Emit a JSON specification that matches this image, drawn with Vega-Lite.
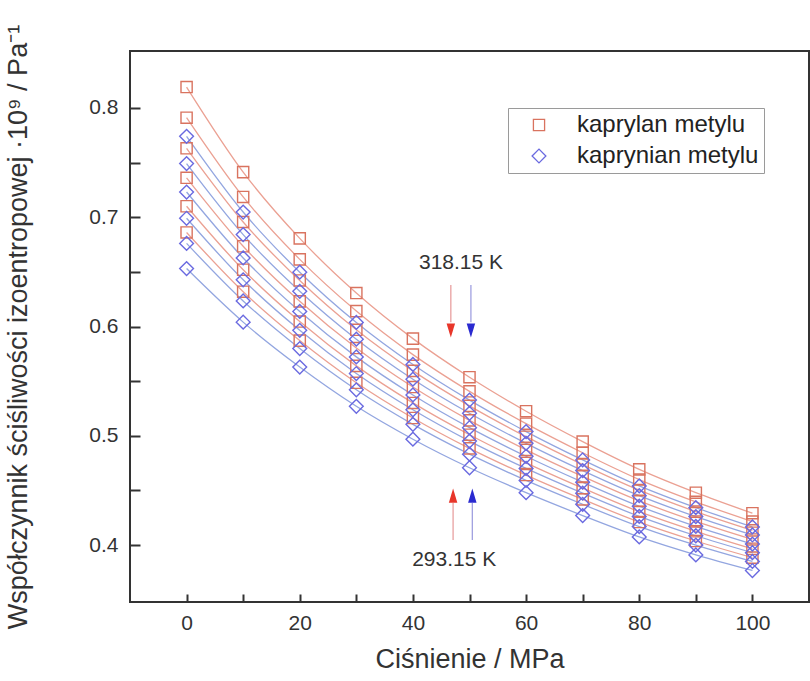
{
  "$schema": "https://vega.github.io/schema/vega-lite/v6.json",
  "width": 679,
  "height": 551,
  "autosize": "none",
  "padding": {"left": 130, "top": 51, "right": 1, "bottom": 79},
  "config": {
    "font": "Liberation Sans",
    "view": {"stroke": "#333333", "strokeWidth": 2},
    "axis": {"labelColor": "#333333", "titleColor": "#333333", "domain": false, "grid": false, "labelFontSize": 21, "titleFontSize": 27, "titleFontWeight": "normal", "tickColor": "#333333", "tickWidth": 2, "zindex": 1}
  },
  "datasets": {
    "pts": [
      {"ciecz": "kaprylan metylu", "T": 318.15, "P": 0, "k": 0.819},
      {"ciecz": "kaprylan metylu", "T": 318.15, "P": 10, "k": 0.7412},
      {"ciecz": "kaprylan metylu", "T": 318.15, "P": 20, "k": 0.6806},
      {"ciecz": "kaprylan metylu", "T": 318.15, "P": 30, "k": 0.6306},
      {"ciecz": "kaprylan metylu", "T": 318.15, "P": 40, "k": 0.5889},
      {"ciecz": "kaprylan metylu", "T": 318.15, "P": 50, "k": 0.5536},
      {"ciecz": "kaprylan metylu", "T": 318.15, "P": 60, "k": 0.5225},
      {"ciecz": "kaprylan metylu", "T": 318.15, "P": 70, "k": 0.4947},
      {"ciecz": "kaprylan metylu", "T": 318.15, "P": 80, "k": 0.4693},
      {"ciecz": "kaprylan metylu", "T": 318.15, "P": 90, "k": 0.448},
      {"ciecz": "kaprylan metylu", "T": 318.15, "P": 100, "k": 0.4292},
      {"ciecz": "kaprylan metylu", "T": 313.15, "P": 0, "k": 0.791},
      {"ciecz": "kaprylan metylu", "T": 313.15, "P": 10, "k": 0.7185},
      {"ciecz": "kaprylan metylu", "T": 313.15, "P": 20, "k": 0.6614},
      {"ciecz": "kaprylan metylu", "T": 313.15, "P": 30, "k": 0.6141},
      {"ciecz": "kaprylan metylu", "T": 313.15, "P": 40, "k": 0.5743},
      {"ciecz": "kaprylan metylu", "T": 313.15, "P": 50, "k": 0.5407},
      {"ciecz": "kaprylan metylu", "T": 313.15, "P": 60, "k": 0.5111},
      {"ciecz": "kaprylan metylu", "T": 313.15, "P": 70, "k": 0.4845},
      {"ciecz": "kaprylan metylu", "T": 313.15, "P": 80, "k": 0.46},
      {"ciecz": "kaprylan metylu", "T": 313.15, "P": 90, "k": 0.4396},
      {"ciecz": "kaprylan metylu", "T": 313.15, "P": 100, "k": 0.4216},
      {"ciecz": "kaprylan metylu", "T": 308.15, "P": 0, "k": 0.763},
      {"ciecz": "kaprylan metylu", "T": 308.15, "P": 10, "k": 0.6956},
      {"ciecz": "kaprylan metylu", "T": 308.15, "P": 20, "k": 0.6421},
      {"ciecz": "kaprylan metylu", "T": 308.15, "P": 30, "k": 0.597},
      {"ciecz": "kaprylan metylu", "T": 308.15, "P": 40, "k": 0.5594},
      {"ciecz": "kaprylan metylu", "T": 308.15, "P": 50, "k": 0.5274},
      {"ciecz": "kaprylan metylu", "T": 308.15, "P": 60, "k": 0.4992},
      {"ciecz": "kaprylan metylu", "T": 308.15, "P": 70, "k": 0.4737},
      {"ciecz": "kaprylan metylu", "T": 308.15, "P": 80, "k": 0.4503},
      {"ciecz": "kaprylan metylu", "T": 308.15, "P": 90, "k": 0.4307},
      {"ciecz": "kaprylan metylu", "T": 308.15, "P": 100, "k": 0.4135},
      {"ciecz": "kaprylan metylu", "T": 303.15, "P": 0, "k": 0.736},
      {"ciecz": "kaprylan metylu", "T": 303.15, "P": 10, "k": 0.6734},
      {"ciecz": "kaprylan metylu", "T": 303.15, "P": 20, "k": 0.623},
      {"ciecz": "kaprylan metylu", "T": 303.15, "P": 30, "k": 0.5803},
      {"ciecz": "kaprylan metylu", "T": 303.15, "P": 40, "k": 0.5446},
      {"ciecz": "kaprylan metylu", "T": 303.15, "P": 50, "k": 0.5141},
      {"ciecz": "kaprylan metylu", "T": 303.15, "P": 60, "k": 0.4872},
      {"ciecz": "kaprylan metylu", "T": 303.15, "P": 70, "k": 0.4629},
      {"ciecz": "kaprylan metylu", "T": 303.15, "P": 80, "k": 0.4405},
      {"ciecz": "kaprylan metylu", "T": 303.15, "P": 90, "k": 0.4217},
      {"ciecz": "kaprylan metylu", "T": 303.15, "P": 100, "k": 0.4052},
      {"ciecz": "kaprylan metylu", "T": 298.15, "P": 0, "k": 0.71},
      {"ciecz": "kaprylan metylu", "T": 298.15, "P": 10, "k": 0.6519},
      {"ciecz": "kaprylan metylu", "T": 298.15, "P": 20, "k": 0.6045},
      {"ciecz": "kaprylan metylu", "T": 298.15, "P": 30, "k": 0.564},
      {"ciecz": "kaprylan metylu", "T": 298.15, "P": 40, "k": 0.5301},
      {"ciecz": "kaprylan metylu", "T": 298.15, "P": 50, "k": 0.501},
      {"ciecz": "kaprylan metylu", "T": 298.15, "P": 60, "k": 0.4753},
      {"ciecz": "kaprylan metylu", "T": 298.15, "P": 70, "k": 0.4522},
      {"ciecz": "kaprylan metylu", "T": 298.15, "P": 80, "k": 0.4306},
      {"ciecz": "kaprylan metylu", "T": 298.15, "P": 90, "k": 0.4127},
      {"ciecz": "kaprylan metylu", "T": 298.15, "P": 100, "k": 0.3967},
      {"ciecz": "kaprylan metylu", "T": 293.15, "P": 0, "k": 0.686},
      {"ciecz": "kaprylan metylu", "T": 293.15, "P": 10, "k": 0.6318},
      {"ciecz": "kaprylan metylu", "T": 293.15, "P": 20, "k": 0.5871},
      {"ciecz": "kaprylan metylu", "T": 293.15, "P": 30, "k": 0.5485},
      {"ciecz": "kaprylan metylu", "T": 293.15, "P": 40, "k": 0.5163},
      {"ciecz": "kaprylan metylu", "T": 293.15, "P": 50, "k": 0.4885},
      {"ciecz": "kaprylan metylu", "T": 293.15, "P": 60, "k": 0.4641},
      {"ciecz": "kaprylan metylu", "T": 293.15, "P": 70, "k": 0.4419},
      {"ciecz": "kaprylan metylu", "T": 293.15, "P": 80, "k": 0.4211},
      {"ciecz": "kaprylan metylu", "T": 293.15, "P": 90, "k": 0.4038},
      {"ciecz": "kaprylan metylu", "T": 293.15, "P": 100, "k": 0.3886},
      {"ciecz": "kaprynian metylu", "T": 318.15, "P": 0, "k": 0.774},
      {"ciecz": "kaprynian metylu", "T": 318.15, "P": 10, "k": 0.7047},
      {"ciecz": "kaprynian metylu", "T": 318.15, "P": 20, "k": 0.6497},
      {"ciecz": "kaprynian metylu", "T": 318.15, "P": 30, "k": 0.6037},
      {"ciecz": "kaprynian metylu", "T": 318.15, "P": 40, "k": 0.5653},
      {"ciecz": "kaprynian metylu", "T": 318.15, "P": 50, "k": 0.5327},
      {"ciecz": "kaprynian metylu", "T": 318.15, "P": 60, "k": 0.5039},
      {"ciecz": "kaprynian metylu", "T": 318.15, "P": 70, "k": 0.478},
      {"ciecz": "kaprynian metylu", "T": 318.15, "P": 80, "k": 0.4542},
      {"ciecz": "kaprynian metylu", "T": 318.15, "P": 90, "k": 0.4343},
      {"ciecz": "kaprynian metylu", "T": 318.15, "P": 100, "k": 0.4167},
      {"ciecz": "kaprynian metylu", "T": 313.15, "P": 0, "k": 0.749},
      {"ciecz": "kaprynian metylu", "T": 313.15, "P": 10, "k": 0.6841},
      {"ciecz": "kaprynian metylu", "T": 313.15, "P": 20, "k": 0.6322},
      {"ciecz": "kaprynian metylu", "T": 313.15, "P": 30, "k": 0.5884},
      {"ciecz": "kaprynian metylu", "T": 313.15, "P": 40, "k": 0.5518},
      {"ciecz": "kaprynian metylu", "T": 313.15, "P": 50, "k": 0.5206},
      {"ciecz": "kaprynian metylu", "T": 313.15, "P": 60, "k": 0.4931},
      {"ciecz": "kaprynian metylu", "T": 313.15, "P": 70, "k": 0.4682},
      {"ciecz": "kaprynian metylu", "T": 313.15, "P": 80, "k": 0.4453},
      {"ciecz": "kaprynian metylu", "T": 313.15, "P": 90, "k": 0.4261},
      {"ciecz": "kaprynian metylu", "T": 313.15, "P": 100, "k": 0.4093},
      {"ciecz": "kaprynian metylu", "T": 308.15, "P": 0, "k": 0.723},
      {"ciecz": "kaprynian metylu", "T": 308.15, "P": 10, "k": 0.6627},
      {"ciecz": "kaprynian metylu", "T": 308.15, "P": 20, "k": 0.6138},
      {"ciecz": "kaprynian metylu", "T": 308.15, "P": 30, "k": 0.5722},
      {"ciecz": "kaprynian metylu", "T": 308.15, "P": 40, "k": 0.5374},
      {"ciecz": "kaprynian metylu", "T": 308.15, "P": 50, "k": 0.5075},
      {"ciecz": "kaprynian metylu", "T": 308.15, "P": 60, "k": 0.4813},
      {"ciecz": "kaprynian metylu", "T": 308.15, "P": 70, "k": 0.4576},
      {"ciecz": "kaprynian metylu", "T": 308.15, "P": 80, "k": 0.4356},
      {"ciecz": "kaprynian metylu", "T": 308.15, "P": 90, "k": 0.4172},
      {"ciecz": "kaprynian metylu", "T": 308.15, "P": 100, "k": 0.401},
      {"ciecz": "kaprynian metylu", "T": 303.15, "P": 0, "k": 0.699},
      {"ciecz": "kaprynian metylu", "T": 303.15, "P": 10, "k": 0.6427},
      {"ciecz": "kaprynian metylu", "T": 303.15, "P": 20, "k": 0.5965},
      {"ciecz": "kaprynian metylu", "T": 303.15, "P": 30, "k": 0.557},
      {"ciecz": "kaprynian metylu", "T": 303.15, "P": 40, "k": 0.5238},
      {"ciecz": "kaprynian metylu", "T": 303.15, "P": 50, "k": 0.4952},
      {"ciecz": "kaprynian metylu", "T": 303.15, "P": 60, "k": 0.4702},
      {"ciecz": "kaprynian metylu", "T": 303.15, "P": 70, "k": 0.4475},
      {"ciecz": "kaprynian metylu", "T": 303.15, "P": 80, "k": 0.4263},
      {"ciecz": "kaprynian metylu", "T": 303.15, "P": 90, "k": 0.4086},
      {"ciecz": "kaprynian metylu", "T": 303.15, "P": 100, "k": 0.3931},
      {"ciecz": "kaprynian metylu", "T": 298.15, "P": 0, "k": 0.676},
      {"ciecz": "kaprynian metylu", "T": 298.15, "P": 10, "k": 0.6234},
      {"ciecz": "kaprynian metylu", "T": 298.15, "P": 20, "k": 0.5798},
      {"ciecz": "kaprynian metylu", "T": 298.15, "P": 30, "k": 0.5421},
      {"ciecz": "kaprynian metylu", "T": 298.15, "P": 40, "k": 0.5105},
      {"ciecz": "kaprynian metylu", "T": 298.15, "P": 50, "k": 0.4832},
      {"ciecz": "kaprynian metylu", "T": 298.15, "P": 60, "k": 0.4592},
      {"ciecz": "kaprynian metylu", "T": 298.15, "P": 70, "k": 0.4374},
      {"ciecz": "kaprynian metylu", "T": 298.15, "P": 80, "k": 0.417},
      {"ciecz": "kaprynian metylu", "T": 298.15, "P": 90, "k": 0.4001},
      {"ciecz": "kaprynian metylu", "T": 298.15, "P": 100, "k": 0.3851},
      {"ciecz": "kaprynian metylu", "T": 293.15, "P": 0, "k": 0.653},
      {"ciecz": "kaprynian metylu", "T": 293.15, "P": 10, "k": 0.604},
      {"ciecz": "kaprynian metylu", "T": 293.15, "P": 20, "k": 0.5629},
      {"ciecz": "kaprynian metylu", "T": 293.15, "P": 30, "k": 0.527},
      {"ciecz": "kaprynian metylu", "T": 293.15, "P": 40, "k": 0.4969},
      {"ciecz": "kaprynian metylu", "T": 293.15, "P": 50, "k": 0.4708},
      {"ciecz": "kaprynian metylu", "T": 293.15, "P": 60, "k": 0.448},
      {"ciecz": "kaprynian metylu", "T": 293.15, "P": 70, "k": 0.4271},
      {"ciecz": "kaprynian metylu", "T": 293.15, "P": 80, "k": 0.4075},
      {"ciecz": "kaprynian metylu", "T": 293.15, "P": 90, "k": 0.3911},
      {"ciecz": "kaprynian metylu", "T": 293.15, "P": 100, "k": 0.3768}
    ],
    "arrows": [
      {"ciecz": "kaprylan metylu", "P": 46.7, "y1": 0.638, "y2": 0.604, "head": 0.5963, "dir": "down"},
      {"ciecz": "kaprynian metylu", "P": 50.25, "y1": 0.638, "y2": 0.604, "head": 0.5963, "dir": "down"},
      {"ciecz": "kaprylan metylu", "P": 47.1, "y1": 0.4046, "y2": 0.4386, "head": 0.4453, "dir": "up"},
      {"ciecz": "kaprynian metylu", "P": 50.5, "y1": 0.4046, "y2": 0.4386, "head": 0.4453, "dir": "up"}
    ],
    "notes": [
      {"P": 48.5, "k": 0.658, "tekst": "318.15 K"},
      {"P": 47.3, "k": 0.386, "tekst": "293.15 K"}
    ]
  },
  "encoding": {
    "x": {"field": "P", "type": "quantitative", "scale": {"domain": [-10, 110], "nice": false, "zero": false},
          "axis": {"title": "Ciśnienie / MPa", "values": [0, 10, 20, 30, 40, 50, 60, 70, 80, 90, 100],
                   "labelExpr": "datum.value % 20 === 0 ? datum.label : ''",
                   "offset": -8, "tickSize": 8, "labelPadding": 10, "titlePadding": 13}},
    "y": {"field": "k", "type": "quantitative", "scale": {"domain": [0.348, 0.852], "nice": false, "zero": false},
          "axis": {"title": "Współczynnik ściśliwości izoentropowej ·10⁹ / Pa⁻¹", "values": [0.4, 0.45, 0.5, 0.55, 0.6, 0.65, 0.7, 0.75, 0.8],
                   "labelExpr": "abs(datum.value*10 - round(datum.value*10)) < 0.01 ? format(datum.value, '.1f') : ''",
                   "offset": -10, "tickSize": 10, "labelPadding": 12, "titlePadding": 56}}
  },
  "resolve": {
    "scale": {"color": "independent", "shape": "independent", "size": "independent"}
  },
  "layer": [
    {
      "data": {"name": "pts"},
      "mark": {"type": "line", "interpolate": "monotone", "strokeWidth": 1.3, "clip": true},
      "encoding": {
        "color": {"field": "ciecz", "type": "nominal", "scale": {"domain": ["kaprylan metylu", "kaprynian metylu"], "range": ["#eba193", "#93a6e0"]}, "legend": null},
        "detail": {"field": "T", "type": "nominal"}
      }
    },
    {
      "data": {"name": "pts"},
      "mark": {"type": "point", "filled": false, "strokeWidth": 1.4, "opacity": 1},
      "encoding": {
        "color": {"field": "ciecz", "type": "nominal", "scale": {"domain": ["kaprylan metylu", "kaprynian metylu"], "range": ["#d9735f", "#6a6ae0"]},
                  "legend": {"title": null, "orient": "none", "legendX": 378, "legendY": 57, "labelFontSize": 24, "labelLimit": 400, "labelColor": "#222222", "symbolSize": 110, "symbolStrokeWidth": 1.3, "symbolOffset": 14, "labelOffset": 26, "rowPadding": 7, "padding": 5, "strokeColor": "#9a9a9a", "fillColor": "#ffffff"}},
        "shape": {"field": "ciecz", "type": "nominal", "scale": {"domain": ["kaprylan metylu", "kaprynian metylu"], "range": ["square", "diamond"]},
                  "legend": {"title": null, "orient": "none", "legendX": 378, "legendY": 57, "labelFontSize": 24, "labelLimit": 400, "labelColor": "#222222", "symbolSize": 110, "symbolStrokeWidth": 1.3, "symbolOffset": 14, "labelOffset": 26, "rowPadding": 7, "padding": 5, "strokeColor": "#9a9a9a", "fillColor": "#ffffff"}},
        "size": {"field": "ciecz", "type": "ordinal", "scale": {"domain": ["kaprylan metylu", "kaprynian metylu"], "range": [125, 190]}, "legend": null}
      }
    },
    {
      "data": {"name": "arrows"},
      "mark": {"type": "rule", "strokeWidth": 1.3},
      "encoding": {
        "y": {"field": "y1", "type": "quantitative", "axis": {"title": "Współczynnik ściśliwości izoentropowej ·10⁹ / Pa⁻¹"}},
        "y2": {"field": "y2"},
        "color": {"field": "ciecz", "type": "nominal", "scale": {"domain": ["kaprylan metylu", "kaprynian metylu"], "range": ["#e8a0a0", "#a0a0e0"]}, "legend": null}
      }
    },
    {
      "data": {"name": "arrows"},
      "mark": {"type": "point", "filled": true, "opacity": 1, "strokeWidth": 0},
      "encoding": {
        "y": {"field": "head", "type": "quantitative", "axis": {"title": "Współczynnik ściśliwości izoentropowej ·10⁹ / Pa⁻¹"}},
        "color": {"field": "ciecz", "type": "nominal", "scale": {"domain": ["kaprylan metylu", "kaprynian metylu"], "range": ["#e8362a", "#2a2ad0"]}, "legend": null},
        "shape": {"field": "dir", "type": "nominal", "scale": {"domain": ["down", "up"], "range": ["M-0.6,-1L0.6,-1L0,1Z", "M-0.6,1L0.6,1L0,-1Z"]}, "legend": null},
        "size": {"value": 200}
      }
    },
    {
      "data": {"name": "notes"},
      "mark": {"type": "text", "fontSize": 21, "color": "#333333", "align": "center", "baseline": "middle"},
      "encoding": {
        "text": {"field": "tekst"}
      }
    }
  ]
}
